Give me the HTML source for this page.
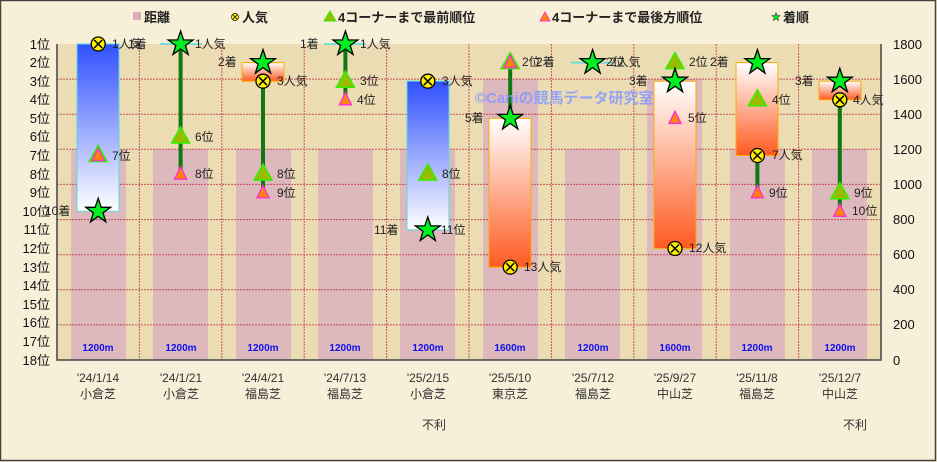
<!DOCTYPE html>
<html><head><meta charset="utf-8"><style>
html,body{margin:0;padding:0;background:#fff}
svg{display:block;font-family:"Liberation Sans","Noto Sans CJK JP",sans-serif}
</style></head><body>
<svg width="937" height="462" viewBox="0 0 937 462" xmlns="http://www.w3.org/2000/svg">
<defs>
<linearGradient id="bl" x1="0" y1="0" x2="0" y2="1"><stop offset="0" stop-color="#3050ff"/><stop offset="1" stop-color="#ffffff"/></linearGradient>
<linearGradient id="or" x1="0" y1="0" x2="0" y2="1"><stop offset="0" stop-color="#ffffff"/><stop offset="1" stop-color="#ff5a20"/></linearGradient>
<polygon id="st" points="0,-13 3,-4 12.4,-4 4.8,1.5 7.6,10.5 0,5 -7.6,10.5 -4.8,1.5 -12.4,-4 -3,-4" fill="#00ee22" stroke="#000" stroke-width="1.3"/>
<g id="po"><circle r="7" fill="#ffee00" stroke="#000" stroke-width="1.3"/><path d="M-4,-4L4,4M4,-4L-4,4" stroke="#000" stroke-width="1.5"/></g>
<polygon id="tg" points="0,-10 9,6 -9,6" fill="#99bb00" stroke="#33ee00" stroke-width="1.5"/>
<polygon id="tp" points="0,-7 6,5 -6,5" fill="#ff8800" stroke="#ff33cc" stroke-width="1.5"/>
</defs>
<rect x="0" y="0" width="937" height="462" fill="#f8efd8"/>
<rect x="0.5" y="0.5" width="935" height="460" fill="none" stroke="#444" stroke-width="1.5"/>
<!-- legend -->
<g font-size="13" font-weight="bold" fill="#222">
<rect x="133" y="12" width="8" height="8" fill="#d8b0b8"/><text x="144" y="22">距離</text>
<use href="#po" transform="translate(235,17) scale(0.5)"/><text x="242" y="22">人気</text>
<polygon points="330,11 336,21 324,21" fill="#99bb00" stroke="#33ee00"/><text x="338" y="22">4コーナーまで最前順位</text>
<polygon points="545,12 550,21 540,21" fill="#ff8800" stroke="#ff33cc"/><text x="552" y="22">4コーナーまで最後方順位</text>
<use href="#st" transform="translate(776,17) scale(0.35)"/><text x="783" y="22">着順</text>
</g>
<!-- plot -->
<rect x="57" y="44" width="824" height="316" fill="#ecdcb4"/>
<g fill="#ddb8bc">
<rect x="71" y="149.3" width="55" height="210.7"/><rect x="153" y="149.3" width="55" height="210.7"/><rect x="236" y="149.3" width="55" height="210.7"/><rect x="318" y="149.3" width="55" height="210.7"/><rect x="400" y="149.3" width="55" height="210.7"/><rect x="483" y="79.1" width="55" height="280.9"/><rect x="565" y="149.3" width="55" height="210.7"/><rect x="647" y="79.1" width="55" height="280.9"/><rect x="730" y="149.3" width="55" height="210.7"/><rect x="812" y="149.3" width="55" height="210.7"/>
</g>
<g stroke="#c03040" stroke-width="1" stroke-dasharray="2,1" opacity="0.8">
<path d="M57,79.1H881M57,114.2H881M57,149.3H881M57,184.4H881M57,219.6H881M57,254.7H881M57,289.8H881M57,324.9H881"/>
<path d="M139.4,44V360M221.8,44V360M304.2,44V360M386.6,44V360M469,44V360M551.4,44V360M633.8,44V360M716.2,44V360M798.6,44V360"/>
</g>
<path d="M57,44V360H881V44" fill="none" stroke="#444" stroke-width="1.5"/>
<!-- distance labels -->
<g font-size="10" font-weight="bold" fill="#1010ee" text-anchor="middle">
<text x="98" y="351">1200m</text><text x="181" y="351">1200m</text><text x="263" y="351">1200m</text><text x="345" y="351">1200m</text><text x="428" y="351">1200m</text><text x="510" y="351">1600m</text><text x="593" y="351">1200m</text><text x="675" y="351">1600m</text><text x="757" y="351">1200m</text><text x="840" y="351">1200m</text>
</g>
<!-- boxes -->
<rect x="77" y="44" width="42" height="167.3" fill="url(#bl)" stroke="#55dddd"/>
<path d="M160,44H202M324,44H366M571,62.6H613" stroke="#55dddd" stroke-width="1.5"/>
<rect x="242" y="62.6" width="42" height="18.6" fill="url(#or)" stroke="#ffaa00"/>
<rect x="407" y="81.2" width="42" height="148.7" fill="url(#bl)" stroke="#55dddd"/>
<rect x="489" y="118.4" width="42" height="148.7" fill="url(#or)" stroke="#ffaa00"/>
<rect x="654" y="81.2" width="42" height="167.3" fill="url(#or)" stroke="#ffaa00"/>
<rect x="736" y="62.6" width="42" height="92.9" fill="url(#or)" stroke="#ffaa00"/>
<rect x="819" y="81.2" width="42" height="18.6" fill="url(#or)" stroke="#ffaa00"/>
<!-- green lines -->
<g stroke="#117711" stroke-width="4">
<path d="M180.6,44V174.1M263,81.2V192.7M345.4,44V99.8M510.2,62.6V118.4M757.4,155.5V192.7M839.8,99.8V211.3"/>
</g>
<!-- markers -->
<use href="#po" x="98.2" y="44"/><use href="#tg" x="98.2" y="155.5"/><use href="#tp" x="98.2" y="155.5"/><use href="#st" x="98.2" y="211.3"/>
<use href="#tp" x="180.6" y="174.1"/><use href="#tg" x="180.6" y="137"/><use href="#st" x="180.6" y="44"/>
<use href="#po" x="263" y="81.2"/><use href="#tg" x="263" y="174.1"/><use href="#tp" x="263" y="192.7"/><use href="#st" x="263" y="62.6"/>
<use href="#tg" x="345.4" y="81.2"/><use href="#tp" x="345.4" y="99.8"/><use href="#st" x="345.4" y="44"/>
<use href="#po" x="427.8" y="81.2"/><use href="#tg" x="427.8" y="174.1"/><use href="#st" x="427.8" y="229.9"/>
<use href="#po" x="510.2" y="267.1"/><use href="#tg" x="510.2" y="62.6"/><use href="#tp" x="510.2" y="62.6"/><use href="#st" x="510.2" y="118.4"/>
<use href="#st" x="592.6" y="62.6"/>
<use href="#po" x="675" y="248.5"/><use href="#tg" x="675" y="62.6"/><use href="#tp" x="675" y="118.4"/><use href="#st" x="675" y="81.2"/>
<use href="#po" x="757.4" y="155.5"/><use href="#tg" x="757.4" y="99.8"/><use href="#tp" x="757.4" y="192.7"/><use href="#st" x="757.4" y="62.6"/>
<use href="#tg" x="839.8" y="192.7"/><use href="#tp" x="839.8" y="211.3"/><use href="#st" x="839.8" y="81.2"/><use href="#po" x="839.8" y="99.8"/>
<!-- watermark -->
<text x="475" y="103" font-size="15" font-weight="bold" fill="#8899ff" opacity="0.85">©Caniの競馬データ研究室</text>
<!-- point labels -->
<g font-size="12" fill="#222">
<text x="112" y="48">1人気</text><text x="128" y="48">1着</text><text x="112" y="160">7位</text><text x="45" y="215">10着</text>
<text x="195" y="48">1人気</text><text x="195" y="141">6位</text><text x="195" y="178">8位</text>
<text x="218" y="66">2着</text><text x="277" y="85">3人気</text><text x="277" y="178">8位</text><text x="277" y="197">9位</text>
<text x="300" y="48">1着</text><text x="360" y="48">1人気</text><text x="360" y="85">3位</text><text x="357" y="104">4位</text>
<text x="442" y="85">3人気</text><text x="442" y="178">8位</text><text x="374" y="234">11着</text><text x="441" y="234">11位</text>
<text x="465" y="122">5着</text><text x="522" y="66">2位</text><text x="536" y="66">2着</text><text x="524" y="271">13人気</text>
<text x="606" y="66">2位</text><text x="610" y="66">2人気</text>
<text x="689" y="66">2位</text><text x="710" y="66">2着</text><text x="629" y="85">3着</text><text x="688" y="122">5位</text><text x="689" y="252">12人気</text>
<text x="772" y="104">4位</text><text x="772" y="159">7人気</text><text x="769" y="197">9位</text>
<text x="795" y="85">3着</text><text x="853" y="104">4人気</text><text x="854" y="197">9位</text><text x="852" y="215">10位</text>
</g>
<!-- left axis -->
<g font-size="13" fill="#111" text-anchor="end">
<text x="50" y="49">1位</text><text x="50" y="67">2位</text><text x="50" y="86">3位</text><text x="50" y="104">4位</text><text x="50" y="123">5位</text><text x="50" y="141">6位</text><text x="50" y="160">7位</text><text x="50" y="179">8位</text><text x="50" y="197">9位</text><text x="50" y="216">10位</text><text x="50" y="234">11位</text><text x="50" y="253">12位</text><text x="50" y="272">13位</text><text x="50" y="290">14位</text><text x="50" y="309">15位</text><text x="50" y="327">16位</text><text x="50" y="346">17位</text><text x="50" y="365">18位</text>
</g>
<g font-size="13" fill="#111">
<text x="893" y="49">1800</text><text x="893" y="84">1600</text><text x="893" y="119">1400</text><text x="893" y="154">1200</text><text x="893" y="189">1000</text><text x="893" y="224">800</text><text x="893" y="259">600</text><text x="893" y="294">400</text><text x="893" y="329">200</text><text x="893" y="365">0</text>
</g>
<!-- categories -->
<g font-size="12" fill="#333" text-anchor="middle">
<text x="98" y="382">'24/1/14</text><text x="98" y="398">小倉芝</text>
<text x="181" y="382">'24/1/21</text><text x="181" y="398">小倉芝</text>
<text x="263" y="382">'24/4/21</text><text x="263" y="398">福島芝</text>
<text x="345" y="382">'24/7/13</text><text x="345" y="398">福島芝</text>
<text x="428" y="382">'25/2/15</text><text x="428" y="398">小倉芝</text>
<text x="510" y="382">'25/5/10</text><text x="510" y="398">東京芝</text>
<text x="593" y="382">'25/7/12</text><text x="593" y="398">福島芝</text>
<text x="675" y="382">'25/9/27</text><text x="675" y="398">中山芝</text>
<text x="757" y="382">'25/11/8</text><text x="757" y="398">福島芝</text>
<text x="840" y="382">'25/12/7</text><text x="840" y="398">中山芝</text>
<text x="434" y="429">不利</text><text x="855" y="429">不利</text>
</g>
</svg>
</body></html>
